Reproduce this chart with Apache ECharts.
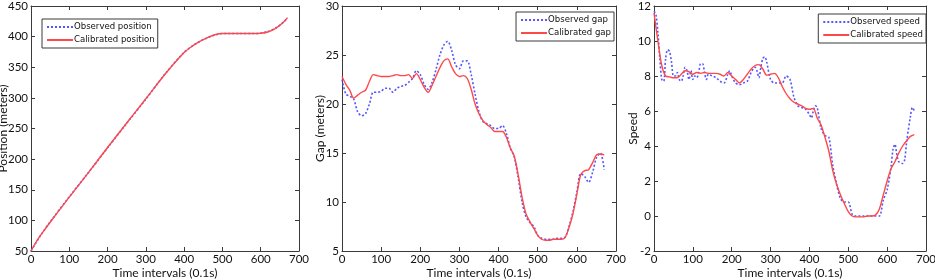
<!DOCTYPE html>
<html>
<head>
<meta charset="utf-8">
<script src="https://cdn.jsdelivr.net/npm/echarts@6/dist/echarts.min.js"></script>
<style>
html, body { margin: 0; padding: 0; background: #fff; }
#main { width: 935px; height: 280px; }
</style>
</head>
<body>
<div id="main"></div>
<script>
// time stamps (0.1s)
var t10 = [0,10,20,30,40,50,60,70,80,90,100,110,120,130,140,150,160,170,180,190,
    200,210,220,230,240,250,260,270,280,290,300,310,320,330,340,350,360,370,380,390,
    400,410,420,430,440,450,460,470,480,490,500,510,520,530,540,550,560,570,580,590,
    600,610,620,630,640,650,660,670];

var tPos = [0,10,20,30,50,100,150,200,250,300,350,400,420,440,460,480,500,520,550,580,600,620,640,660,670];
var posObserved = [50,60.5,70.5,80,97.5,138.5,178,218.5,258.5,298,339,374.5,384,392,398,402.5,405,405,405,405,405.5,408.5,414.5,424,431];
var posCalibrated = [50,61,71,80,97,138,178,219,259,298.5,338.5,374,384,392,398,403,405,405,405,405,405.5,408,414,424,431];

var gapObserved = [22.5,21.0,20.8,20.5,19.2,18.8,19.0,20.0,21.2,21.2,
    21.3,21.6,21.6,21.2,21.6,21.8,21.9,22.2,22.6,23.4,
    23.0,22.0,21.5,22.2,23.5,25.0,26.0,26.4,25.5,24.0,
    23.6,24.4,24.4,23.0,21.0,19.2,18.2,18.0,17.8,17.5,
    17.5,17.8,17.0,15.5,14.6,12.5,10.0,8.5,7.9,7.5,
    6.6,6.3,6.2,6.2,6.2,6.3,6.3,6.4,7.5,9.0,
    11.0,12.9,12.6,12.0,13.0,14.5,15.0,13.3];
var gapCalibrated = [22.8,22.0,21.4,20.6,20.9,21.2,21.4,22.3,23.0,22.9,
    22.8,22.8,22.8,22.9,23.0,22.9,22.9,23.0,22.6,23.1,
    22.5,21.7,21.2,21.9,22.8,23.7,24.4,24.6,23.8,23.1,
    22.8,22.9,22.6,21.5,20.0,19.0,18.3,17.9,17.6,17.2,
    17.2,17.2,16.6,15.5,14.7,12.8,10.5,8.8,8.0,7.3,
    6.6,6.2,6.1,6.1,6.2,6.2,6.2,6.4,7.4,8.8,
    10.8,12.8,13.2,13.3,14.0,14.8,14.9,14.8];

var tSpeedObs = [0,5,10,15,20,25,30,35,40,45,50,55,60,65,70,75,80,85,90,95,
    100,105,110,115,120,125,130,135,140,150,160,170,180,190,195,200,210,220,230,240,
    250,260,265,270,275,280,285,290,300,310,320,330,340,350,360,370,380,390,400,405,
    410,415,420,430,440,450,460,470,480,490,500,510,520,530,540,550,560,570,580,590,
    600,610,615,620,625,630,640,645,650,660,665,670];
var speedObserved = [11.7,11.5,10.5,9.0,7.8,7.7,9.0,9.5,9.4,8.8,8.0,8.0,8.2,7.8,7.7,8.0,8.5,8.3,7.8,8.3,
    7.8,8.0,7.9,8.2,8.7,8.7,8.2,7.8,8.1,8.0,7.9,7.7,7.6,8.1,8.3,8.0,7.6,7.5,7.6,7.7,
    8.2,8.5,8.3,7.9,8.5,9.0,9.1,8.8,7.8,7.6,7.6,7.6,8.0,7.8,6.8,6.3,6.2,6.1,5.8,5.6,
    6.0,6.3,6.2,5.0,4.6,4.5,2.9,1.8,1.0,0.8,0.8,0.1,0.0,0.0,0.0,0.0,0.0,0.0,0.0,0.9,
    1.5,2.8,3.8,4.1,3.5,3.1,3.0,3.2,4.2,5.7,6.2,6.0];
var speedCalibrated = [11.6,10.0,8.6,8.0,7.95,7.9,7.9,8.1,8.3,8.25,
    8.1,8.2,8.15,8.2,8.15,8.15,8.15,8.1,8.0,8.2,
    8.0,7.8,7.6,7.8,8.1,8.4,8.6,8.65,8.4,8.05,
    8.1,8.15,7.9,7.4,7.0,6.7,6.5,6.4,6.3,6.15,
    6.1,6.15,5.6,5.2,4.5,3.7,2.6,1.8,1.2,0.7,
    0.25,0.0,-0.05,-0.05,-0.05,0.0,0.0,0.05,0.4,1.2,
    2.0,2.7,3.1,3.6,4.0,4.3,4.55,4.65];

var xTicks = { min: 0, max: 700, interval: 100 };
var yPanels = [
    { min: 50, max: 450, interval: 50, name: 'Position (meters)', nameGap: 22 },
    { min: 5, max: 30, interval: 5, name: 'Gap (meters)', nameGap: 16 },
    { min: -2, max: 12, interval: 2, name: 'Speed', nameGap: 15 }
];

var FONT = 'Lato';
var LEGEND_FONT = '"DejaVu Sans Condensed", Roboto, sans-serif';
var BLUE = '#5656ff';
var RED = '#ff4848';
var AXIS = '#3a3a3a';

function pairs(xs, ys) {
    return xs.map(function (x, i) { return [x, ys[i]]; });
}

// fixed plot boxes, no auto shrinking for labels
var grids = [
    { left: 31, top: 6, width: 268, height: 245, outerBoundsMode: 'none' },
    { left: 342, top: 6, width: 274, height: 245, outerBoundsMode: 'none' },
    { left: 654, top: 6, width: 272, height: 245, outerBoundsMode: 'none' }
];

var xAxes = [], yAxes = [];
var tick = { show: true, inside: true, length: 4, lineStyle: { color: AXIS } };
var line = { show: true, onZero: false, lineStyle: { color: AXIS, width: 1 } };
var label = { color: '#111', fontFamily: FONT, fontSize: 11.5 };
var titleStyle = { color: '#111', fontFamily: FONT, fontSize: 12 };

for (var g = 0; g < 3; g++) {
    var yp = yPanels[g];
    // bottom + left carry labels, top + right only close the box
    xAxes.push({
        type: 'value', gridIndex: g, position: 'bottom',
        min: xTicks.min, max: xTicks.max, interval: xTicks.interval,
        name: 'Time intervals (0.1s)', nameLocation: 'middle', nameGap: 16,
        nameMoveOverlap: false, nameTextStyle: titleStyle,
        axisLine: line, axisTick: tick, splitLine: { show: false },
        axisLabel: Object.assign({ margin: 2 }, label)
    });
    xAxes.push({
        type: 'value', gridIndex: g, position: 'top',
        min: xTicks.min, max: xTicks.max, interval: xTicks.interval,
        axisLine: line, axisTick: tick, splitLine: { show: false },
        axisLabel: { show: false }
    });
    yAxes.push({
        type: 'value', gridIndex: g, position: 'left',
        min: yp.min, max: yp.max, interval: yp.interval,
        name: yp.name, nameLocation: 'middle', nameGap: yp.nameGap,
        nameMoveOverlap: false, nameTextStyle: titleStyle,
        axisLine: line, axisTick: tick, splitLine: { show: false },
        axisLabel: Object.assign({ margin: 3 }, label)
    });
    yAxes.push({
        type: 'value', gridIndex: g, position: 'right',
        min: yp.min, max: yp.max, interval: yp.interval,
        axisLine: line, axisTick: tick, splitLine: { show: false },
        axisLabel: { show: false }
    });
}

function mkSeries(name, data, idx, observed) {
    return {
        name: name, type: 'line', data: data,
        xAxisIndex: idx * 2, yAxisIndex: idx * 2,
        showSymbol: false, symbol: 'none', smooth: 0.3,
        lineStyle: observed
            ? { color: BLUE, width: 1.6, type: [2, 2] }
            : { color: RED, width: 1.4 },
        itemStyle: { color: observed ? BLUE : RED },
        z: observed ? 2 : 3
    };
}

var series = [
    mkSeries('Observed position', pairs(tPos, posObserved), 0, true),
    mkSeries('Calibrated position', pairs(tPos, posCalibrated), 0, false),
    mkSeries('Observed gap', pairs(t10, gapObserved), 1, true),
    mkSeries('Calibrated gap', pairs(t10, gapCalibrated), 1, false),
    mkSeries('Observed speed', pairs(tSpeedObs, speedObserved), 2, true),
    mkSeries('Calibrated speed', pairs(t10, speedCalibrated), 2, false)
];

function mkLegend(names, pos) {
    return Object.assign({
        data: names, orient: 'vertical',
        backgroundColor: '#fff', borderColor: AXIS, borderWidth: 1,
        padding: [3, 3, 3, 4], itemWidth: 26, itemHeight: 10, itemGap: 3,
        itemStyle: { opacity: 0 },
        textStyle: { color: '#111', fontFamily: LEGEND_FONT, fontSize: 9.5, padding: [0, 0, 0, -4] }
    }, pos);
}

var option = {
    animation: false,
    grid: grids,
    xAxis: xAxes,
    yAxis: yAxes,
    legend: [
        mkLegend(['Observed position', 'Calibrated position'], { left: 42, top: 19 }),
        mkLegend(['Observed gap', 'Calibrated gap'], { right: 321, top: 12 }),
        mkLegend(['Observed speed', 'Calibrated speed'], { right: 9, top: 14 })
    ],
    series: series
};

var myChart = echarts.init(document.getElementById('main'));
myChart.setOption(option);
</script>
</body>
</html>
